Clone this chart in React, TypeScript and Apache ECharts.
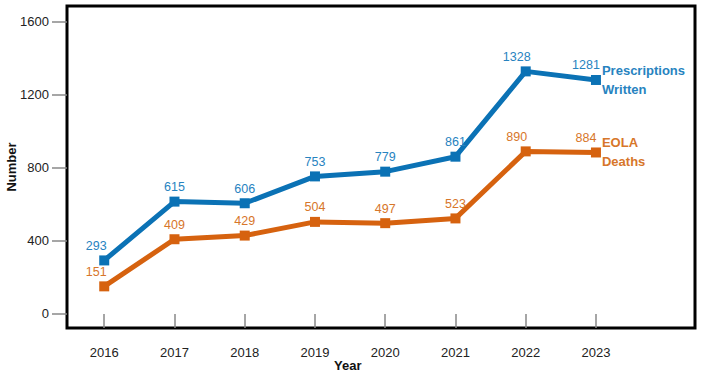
import React, { useEffect, useRef } from "react";
import * as echarts from "echarts";

const years = [2016, 2017, 2018, 2019, 2020, 2021, 2022, 2023];
const prescriptions = [293, 615, 606, 753, 779, 861, 1328, 1281];
const deaths = [151, 409, 429, 504, 497, 523, 890, 884];
const yTicks = [0, 400, 800, 1200, 1600];

const BLUE = "#0b72b5";
const BLUE_LBL = "#2783bf";
const ORANGE = "#d6620f";
const ORANGE_LBL = "#d7762a";
const FONT = "Liberation Sans, Arial, sans-serif";

function shiftFor(i: number): number {
  if (i === 0) return -8;
  if (i === years.length - 2) return -9;
  if (i === years.length - 1) return -10;
  return 0;
}

function makeSeries(name: string, values: number[], color: string, lblColor: string, endText: string) {
  return {
    name,
    type: "line",
    data: years.map((y, i) => ({
      value: [y, values[i]],
      label: { offset: [shiftFor(i), 0] },
    })),
    symbol: "rect",
    symbolSize: 10,
    lineStyle: { width: 5, color },
    itemStyle: { color },
    label: {
      show: true,
      position: "top",
      distance: 3,
      color: lblColor,
      fontSize: 12.5,
      fontFamily: FONT,
    },
    endLabel: {
      show: true,
      formatter: endText,
      distance: 6,
      color: lblColor,
      fontWeight: "bold",
      fontSize: 13,
      lineHeight: 19,
      fontFamily: FONT,
      align: "left",
    },
    z: 3,
  };
}

export default function App() {
  const ref = useRef<HTMLDivElement>(null);
  useEffect(() => {
    if (!ref.current) return;
    const chart = echarts.init(ref.current, undefined, { renderer: "svg" });
    chart.setOption({
      animation: false,
      textStyle: { fontFamily: FONT },
      grid: {
        show: true,
        left: 67,
        right: 15,
        top: 6,
        bottom: 48,
        borderColor: "#000",
        borderWidth: 3,
        containLabel: false,
        outerBoundsMode: "none",
      },
      xAxis: {
        type: "value",
        min: 2015.47,
        max: 2024.41,
        axisLine: { show: false },
        splitLine: { show: false },
        axisTick: {
          show: true,
          length: 14,
          lineStyle: { color: "#888", width: 1.5 },
          customValues: years,
        },
        axisLabel: {
          show: true,
          margin: 18,
          color: "#222",
          fontSize: 13,
          fontFamily: FONT,
          customValues: years,
          formatter: (v: number) => String(v),
        },
      },
      yAxis: {
        type: "value",
        min: -77,
        max: 1686,
        name: "Number",
        nameLocation: "middle",
        nameGap: 49,
        nameMoveOverlap: false,
        nameTextStyle: { fontWeight: "bold", fontSize: 13, color: "#111", fontFamily: FONT },
        axisLine: { show: false },
        splitLine: { show: false },
        axisTick: {
          show: true,
          length: 15,
          lineStyle: { color: "#888", width: 1.5 },
          customValues: yTicks,
        },
        axisLabel: {
          show: true,
          margin: 18,
          color: "#222",
          fontSize: 13,
          fontFamily: FONT,
          customValues: yTicks,
          formatter: (v: number) => String(v),
        },
      },
      graphic: [
        {
          type: "text",
          left: 350 - 16,
          top: 359,
          style: {
            text: "Year",
            fontWeight: "bold",
            fontSize: 13,
            fill: "#111",
            fontFamily: FONT,
          },
        },
      ],
      series: [
        makeSeries("Prescriptions Written", prescriptions, BLUE, BLUE_LBL, "Prescriptions\nWritten"),
        makeSeries("EOLA Deaths", deaths, ORANGE, ORANGE_LBL, "EOLA\nDeaths"),
      ],
    });
    return () => chart.dispose();
  }, []);
  return <div ref={ref} style={{ width: 710, height: 376, position: "absolute", left: 0, top: 0 }} />;
}
